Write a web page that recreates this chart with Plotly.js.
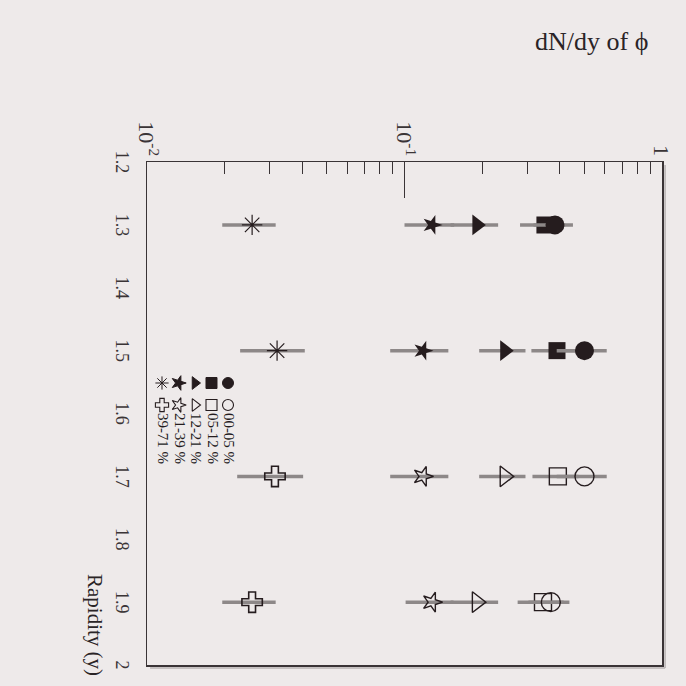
<!DOCTYPE html>
<html>
<head>
<meta charset="utf-8">
<script src="https://cdn.plot.ly/plotly-3.0.1.min.js"></script>
<style>
  html, body { margin: 0; padding: 0; background: #eeeaea; overflow: hidden; }
  /* the figure is laid out upright and then turned a quarter turn clockwise */
  #fig { width: 686px; height: 686px; transform: rotate(90deg); transform-origin: 50% 50%; }
</style>
</head>
<body>
<div id="fig"></div>
<script>
// Rapidity bins: measured (forward) and reflected
const yMeasured  = [1.3, 1.5];
const yReflected = [1.7, 1.9];

// centrality classes
const classes = ['00-05 %', '05-12 %', '12-21 %', '21-39 %', '39-71 %'];

// dN/dy of phi, measured points
const dndy00_05 = [0.384, 0.50];
const dndy05_12 = [0.351, 0.391];
const dndy12_21 = [0.191, 0.245];
const dndy21_39 = [0.128, 0.118];
const dndy39_71 = [0.0256, 0.0320];

const err00_05 = [0.067, 0.11];
const err05_12 = [0.070, 0.080];
const err12_21 = [0.040, 0.050];
const err21_39 = [0.028, 0.030];
const err39_71 = [0.006, 0.009];

// dN/dy of phi, reflected points
const dndyR00_05 = [0.50, 0.37];
const dndyR05_12 = [0.394, 0.345];
const dndyR12_21 = [0.245, 0.191];
const dndyR21_39 = [0.118, 0.128];
const dndyR39_71 = [0.0314, 0.0256];

const errR00_05 = [0.11, 0.067];
const errR05_12 = [0.080, 0.070];
const errR12_21 = [0.050, 0.040];
const errR21_39 = [0.030, 0.027];
const errR39_71 = [0.009, 0.006];

// axis ticks
const rapidityTicks = [1.2, 1.3, 1.4, 1.5, 1.6, 1.7, 1.8, 1.9, 2.0];
const rapidityTickText = ['1.2', '1.3', '1.4', '1.5', '1.6', '1.7', '1.8', '1.9', '2'];
const dndyTicks = [0.01, 0.1, 1];
const dndyTickText = ['10<sup>-2</sup>', '10<sup>-1</sup>', '1'];
const dndyMinor = [0.02, 0.03, 0.04, 0.05, 0.06, 0.07, 0.08, 0.09,
                   0.2, 0.3, 0.4, 0.5, 0.6, 0.7, 0.8, 0.9];

const filledSymbols = ['circle', 'square', 'triangle-up', 'star', 'asterisk-open'];
const openSymbols   = ['circle-open', 'square-open', 'triangle-up-open', 'star-open', 'cross-open'];
const markerSizes   = [19, 17, 18, 15, 17];

const INK = '#251c1e';
const BAR = '#8d8888';
const FRAME = '#3a3436';
const SERIF = 'Liberation Serif, DejaVu Serif, serif';

const measured  = [dndy00_05, dndy05_12, dndy12_21, dndy21_39, dndy39_71];
const measErr   = [err00_05, err05_12, err12_21, err21_39, err39_71];
const reflected = [dndyR00_05, dndyR05_12, dndyR12_21, dndyR21_39, dndyR39_71];
const reflErr   = [errR00_05, errR05_12, errR12_21, errR21_39, errR39_71];

const traces = [];
// draw the most peripheral class first so the central ones sit on top
for (let i = classes.length - 1; i >= 0; i--) {
  const openLine = (openSymbols[i] === 'cross-open') ? 1.6 : 1.4;
  traces.push({
    type: 'scatter', mode: 'markers', name: classes[i], showlegend: false,
    x: yMeasured, y: measured[i],
    error_y: { type: 'data', array: measErr[i], visible: true, color: BAR, thickness: 3.5, width: 0 },
    marker: { symbol: filledSymbols[i], size: markerSizes[i], color: INK,
              line: { color: INK, width: filledSymbols[i] === 'asterisk-open' ? 1.2 : 0 } }
  });
  traces.push({
    type: 'scatter', mode: 'markers', name: classes[i] + ' (refl.)', showlegend: false,
    x: yReflected, y: reflected[i],
    error_y: { type: 'data', array: reflErr[i], visible: true, color: BAR, thickness: 3.5, width: 0 },
    marker: { symbol: openSymbols[i], size: markerSizes[i], color: INK,
              line: { color: INK, width: openLine } }
  });
}

// key: filled and open symbol for every centrality class, then its label
traces.push({
  type: 'scatter', mode: 'markers', xaxis: 'x2', yaxis: 'y2', showlegend: false, hoverinfo: 'skip',
  x: classes.map(() => 'filled'), y: classes,
  marker: { symbol: filledSymbols, size: 11, color: INK, line: { color: INK, width: 1 } }
});
traces.push({
  type: 'scatter', mode: 'markers+text', xaxis: 'x2', yaxis: 'y2', showlegend: false, hoverinfo: 'skip',
  x: classes.map(() => 'open'), y: classes, text: classes, textposition: 'middle right',
  textfont: { family: SERIF, size: 15, color: INK },
  marker: { symbol: openSymbols, size: 11, color: INK, line: { color: INK, width: 1.1 } }
});

const layout = {
  width: 686, height: 686,
  margin: { l: 162, r: 21, t: 24, b: 147 },
  paper_bgcolor: '#eeeaea', plot_bgcolor: '#eeeaea',
  showlegend: false,
  font: { family: SERIF, color: '#2a2426' },
  xaxis: {
    range: [1.2, 2.0], tickvals: rapidityTicks, ticktext: rapidityTickText,
    ticks: '', showgrid: false, zeroline: false,
    showline: true, linecolor: FRAME, linewidth: 1.5, mirror: true,
    tickfont: { family: SERIF, size: 18, color: FRAME }, ticklabelstandoff: 8
  },
  yaxis: {
    type: 'log', range: [-2, 0], tickvals: dndyTicks, ticktext: dndyTickText,
    ticks: 'inside', ticklen: 36, tickwidth: 1, tickcolor: FRAME,
    minor: { tickmode: 'array', tickvals: dndyMinor, ticks: 'inside', ticklen: 12, tickwidth: 1, tickcolor: FRAME, showgrid: false },
    showgrid: false, zeroline: false,
    showline: true, linecolor: FRAME, linewidth: 1.5, mirror: true,
    tickfont: { family: SERIF, size: 22, color: FRAME }, ticklabelstandoff: 0
  },
  xaxis2: {
    domain: [0.4175, 0.6362], range: [-0.5, 4.5], type: 'category',
    categoryorder: 'array', categoryarray: ['filled', 'open'],
    visible: false, fixedrange: true
  },
  yaxis2: {
    domain: [0.0131, 0.1733], range: [4.5, -0.5], type: 'category',
    categoryorder: 'array', categoryarray: classes,
    visible: false, fixedrange: true
  },
  shapes: [
    // soft shadow along two sides of the frame
    { type: 'line', xref: 'paper', yref: 'paper', x0: 0.006, x1: 1.006, y0: 1.006, y1: 1.006,
      line: { color: '#b8b3b3', width: 1.5 } },
    { type: 'line', xref: 'paper', yref: 'paper', x0: 1.006, x1: 1.006, y0: 1.006, y1: 0.006,
      line: { color: '#b8b3b3', width: 1.5 } }
  ],
  annotations: [
    { text: 'dN/dy of ϕ', xref: 'paper', yref: 'paper', x: -0.2406, y: 0.864,
      xanchor: 'center', yanchor: 'middle',
      textangle: -90, showarrow: false, font: { family: SERIF, size: 26, color: '#2a2426' } },
    { text: 'Rapidity (y)', xref: 'paper', yref: 'paper', x: 0.9205, y: -0.101,
      xanchor: 'center', yanchor: 'middle',
      showarrow: false, font: { family: SERIF, size: 21, color: '#2a2426' } }
  ]
};

Plotly.newPlot('fig', traces, layout, { staticPlot: true, displayModeBar: false });
</script>
</body>
</html>
